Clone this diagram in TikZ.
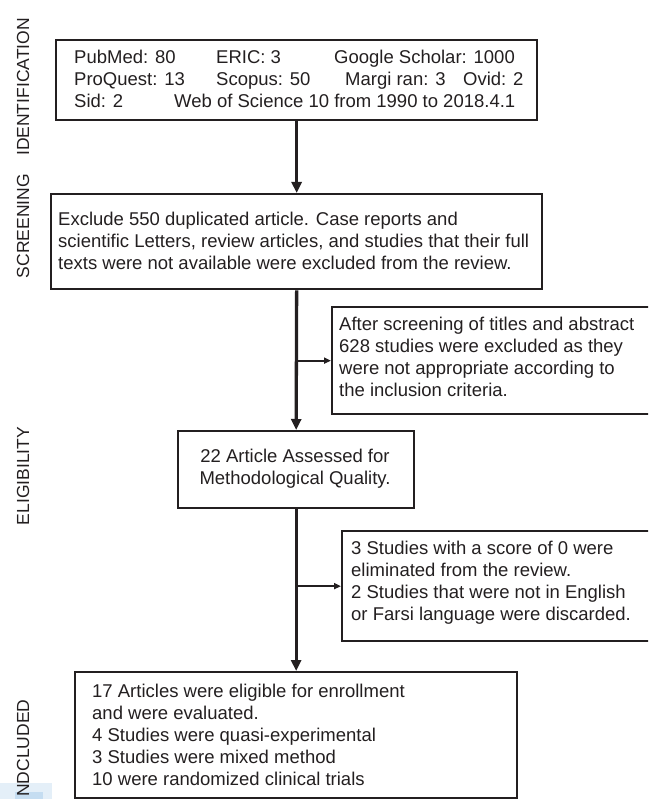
\documentclass[tikz,border=0pt]{standalone}
\usepackage{fontspec}
\setmainfont{Liberation Sans}
\usetikzlibrary{arrows.meta}

\definecolor{inkgray}{HTML}{231F20}
\definecolor{scanpale}{HTML}{E4EFF8}
\definecolor{scanblue}{HTML}{C5DDF1}

\tikzset{
  frame/.style={draw=inkgray, line width=2.3pt, rectangle, inner sep=0pt, anchor=north west},
  txt/.style={inner sep=0pt, align=left, text=inkgray, font=\fontsize{18.5}{22}\selectfont},
  phase/.style={rotate=90, inner sep=0pt, text=inkgray, font=\fontsize{17.5}{20}\selectfont},
  flow/.style={draw=inkgray, line width=3.3pt, -{Triangle[length=11pt,width=10pt]}},
  branch/.style={draw=inkgray, line width=2pt, -{Triangle[length=7pt,width=6pt]}},
}

\begin{document}
\begin{tikzpicture}[x=1pt,y=-1pt]
            \useasboundingbox (0,0) rectangle (648,799);
            \clip (0,0) rectangle (648,799);

            % Scan stain, bottom left
            \fill[scanpale] (0,783) rectangle (52,799);
            \fill[scanblue] (15,792) rectangle (43,799);

            % Phase labels
            \node[phase] (lab-ident) at (23,87) {IDENTIFICATION};
            \node[phase] (lab-screen) at (23,226) {SCREENING};
            \node[phase] (lab-elig) at (23,476) {ELIGIBILITY};
            \node[phase, anchor=west] (lab-incl) at (23,797) {NDCLUDED};

            % Box: databases
            \node[frame, minimum width=481pt, minimum height=80pt] (ident) at (55,39) {};
            \node[txt, anchor=west] (ident-t) at (74,79) {%
              \makebox[142pt][l]{PubMed: 80}\makebox[118pt][l]{ERIC: 3}Google Scholar: 1000\\
              \makebox[142pt][l]{ProQuest: 13}\makebox[129pt][l]{Scopus: 50}\makebox[118pt][l]{Margi ran: 3}Ovid: 2\\
              \makebox[100pt][l]{Sid: 2}Web of Science 10 from 1990 to 2018.4.1};

            % Box: duplicates excluded
            \node[frame, minimum width=491pt, minimum height=95pt] (screen) at (50,193) {};
            \node[txt, anchor=west] (screen-t) at (58,240.5) {%
              Exclude 550 duplicated article. Case reports and\\
              scientific Letters, review articles, and studies that their full\\
              texts were not available were excluded from the review.};

            % Box: titles and abstracts
            \node[frame, minimum width=320pt, minimum height=107pt] (titles) at (331,306) {};
            \node[txt, anchor=west] (titles-t) at (339,357) {%
              After screening of titles and abstract\\
              628 studies were excluded as they\\
              were not appropriate according to\\
              the inclusion criteria.};

            % Box: quality assessment
            \node[frame, minimum width=236pt, minimum height=77pt] (assess) at (177,430) {};
            \node[txt, align=center] (assess-t) at (295,469) {%
              22 Article Assessed for\\
              Methodological Quality.};

            % Box: eliminated studies
            \node[frame, minimum width=310pt, minimum height=110pt] (excl) at (341,530) {};
            \node[txt, anchor=west] (excl-t) at (351,583) {%
              3 Studies with a score of 0 were\\
              eliminated from the review.\\
              2 Studies that were not in English\\
              or Farsi language were discarded.};

            % Box: included studies
            \node[frame, minimum width=442pt, minimum height=126pt] (incl) at (74,671) {};
            \node[txt, anchor=west] (incl-t) at (92,734.5) {%
              17 Articles were eligible for enrollment\\
              and were evaluated.\\
              4 Studies were quasi-experimental\\
              3 Studies were mixed method\\
              10 were randomized clinical trials};

            % Connectors
            \draw[flow] (ident.south) -- (screen.north);
            \draw[flow] (screen.south) -- (assess.north);
            \draw[flow] (assess.south) -- (incl.north);
            \draw[branch] (screen.south |- titles.west) -- (titles.west);
            \draw[branch] (assess.south |- excl.west) -- (excl.west);
\end{tikzpicture}
\end{document}
